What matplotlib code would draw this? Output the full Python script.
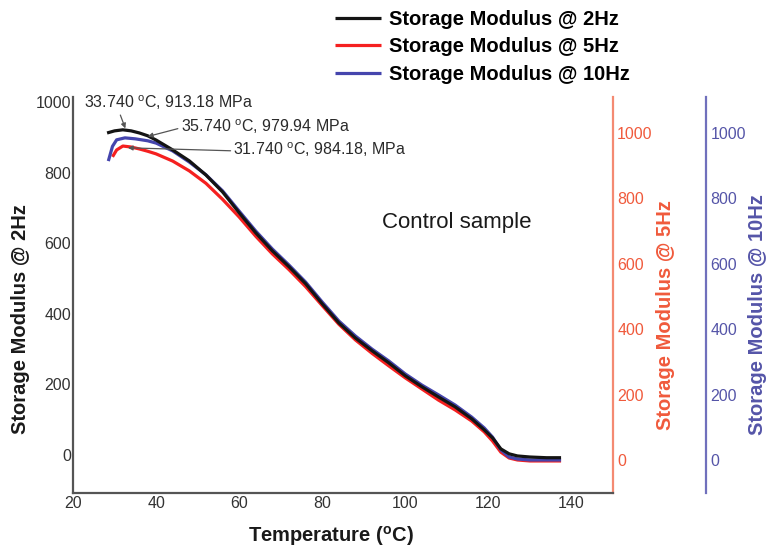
import matplotlib
matplotlib.use('Agg')
import matplotlib.pyplot as plt

plt.rcParams['font.family'] = ['Liberation Sans', 'DejaVu Sans']
plt.rcParams['mathtext.fontset'] = 'custom'
plt.rcParams['mathtext.rm'] = 'Liberation Sans'
plt.rcParams['mathtext.bf'] = 'Liberation Sans:bold'

# temperature (C) and storage modulus (MPa)
temp_2hz = [28.2, 30, 32, 34, 36, 38, 40, 44, 48, 52, 56, 60, 64, 68, 72, 76, 80, 84,
            88, 92, 96, 100, 104, 108, 112, 116, 119, 121, 123, 125, 127, 130, 134, 137.5]
mod_2hz = [912, 918, 921, 918, 912, 904, 892, 864, 833, 793, 745, 686, 629, 578, 533, 485,
           428, 374, 331, 295, 261, 224, 193, 164, 136, 102, 71, 48, 17, 3, -3, -6, -8, -8]

temp_5hz = [29.5, 30.5, 32, 34, 36, 38, 40, 44, 48, 52, 56, 60, 64, 68, 72, 76, 80, 84,
            88, 92, 96, 100, 104, 108, 112, 116, 119, 121, 123, 125, 127, 130, 134, 137.5]
mod_5hz = [927, 948, 960, 957, 951, 944, 936, 914, 884, 846, 797, 743, 684, 630, 582, 530,
           472, 415, 367, 326, 288, 251, 217, 183, 153, 119, 86, 58, 24, 6, 0, -3, -3, -3]

temp_10hz = [28.5, 29.5, 30.5, 32.5, 35, 38, 40, 44, 48, 52, 56, 60, 64, 68, 72, 76, 80, 84,
             88, 92, 96, 100, 104, 108, 112, 116, 119, 121, 123, 125, 127, 130, 134, 137.5]
mod_10hz = [914, 959, 979, 985, 982, 976, 969, 945, 911, 872, 823, 761, 700, 645, 596, 544,
            483, 425, 379, 339, 303, 263, 229, 199, 168, 131, 98, 70, 31, 9, 3, 0, 0, 0]

yticks = [0, 200, 400, 600, 800, 1000]
xticks = [20, 40, 60, 80, 100, 120, 140]

c_black = '#141414'
c_red = '#f52020'
c_blue = '#4545ad'
red_axis = '#f48a72'
red_text = '#f05a3c'
blue_axis = '#7070bc'
blue_text = '#5555a8'
gray = '#555555'

fig = plt.figure(figsize=(7.67, 5.47), dpi=100)
ax = fig.add_axes([0.0952, 0.0987, 0.704, 0.724])
ax_r = ax.twinx()
ax_b = ax.twinx()

l5, = ax_r.plot(temp_5hz, mod_5hz, color=c_red, lw=2.3, solid_capstyle='butt')
l10, = ax_b.plot(temp_10hz, mod_10hz, color=c_blue, lw=2.3, solid_capstyle='butt')
l2, = ax.plot(temp_2hz, mod_2hz, color=c_black, lw=2.3, solid_capstyle='butt')

ax.set_zorder(3)
ax.patch.set_visible(False)

ax.set_xlim(20, 150)
ax.set_ylim(-108, 1014)
ax_r.set_ylim(-101, 1110)
ax_b.set_ylim(-101, 1110)

ax.set_xticks(xticks)
ax.set_yticks(yticks)
ax_r.set_yticks(yticks)
ax_b.set_yticks(yticks)

for a in (ax, ax_r, ax_b):
    for s in a.spines.values():
        s.set_visible(False)

ax.spines['left'].set_visible(True)
ax.spines['bottom'].set_visible(True)
ax.spines['left'].set_color(gray)
ax.spines['bottom'].set_color(gray)
ax.spines['left'].set_linewidth(1.6)
ax.spines['bottom'].set_linewidth(1.6)

ax_r.spines['right'].set_visible(True)
ax_r.spines['right'].set_color(red_axis)
ax_r.spines['right'].set_linewidth(1.6)

ax_b.spines['right'].set_visible(True)
ax_b.spines['right'].set_position(('axes', 1.1725))
ax_b.spines['right'].set_color(blue_axis)
ax_b.spines['right'].set_linewidth(1.6)

ax.tick_params(axis='both', length=0, labelsize=11.5, labelcolor='#333333')
ax.tick_params(axis='y', pad=1.5)
ax.tick_params(axis='x', pad=2.5)
ax_r.tick_params(axis='y', length=0, labelsize=11.5, labelcolor=red_text, pad=3)
ax_b.tick_params(axis='y', length=0, labelsize=11.5, labelcolor=blue_text, pad=3)

ax.set_xlabel(r'Temperature ($^{\mathbf{o}}$C)', fontsize=14.5, fontweight='bold', color='#1a1a1a')
ax.xaxis.set_label_coords(0.477, -0.078)
ax.set_ylabel('Storage Modulus @ 2Hz', fontsize=14.5, fontweight='bold', color='#1a1a1a')
ax.yaxis.set_label_coords(-0.080, 0.44)
ax_r.set_ylabel('Storage Modulus @ 5Hz', fontsize=14.5, fontweight='bold', color=red_text)
ax_r.yaxis.set_label_coords(1.080, 0.45)
ax_b.set_ylabel('Storage Modulus @ 10Hz', fontsize=14.5, fontweight='bold', color=blue_text)
ax_b.yaxis.set_label_coords(1.250, 0.45)

ax.text(0.573, 0.684, 'Control sample', transform=ax.transAxes, fontsize=16,
        va='center', ha='left', color='#1a1a1a')

arrow = dict(arrowstyle='-|>', color=gray, lw=0.9, mutation_scale=7, shrinkA=0, shrinkB=0)
ax.annotate(r'33.740 $^{\mathrm{o}}$C, 913.18 MPa', xy=(32.6, 925), xytext=(22.6, 997),
            fontsize=11.5, color='#2a2a2a', va='center', ha='left',
            arrowprops=dict(arrow, relpos=(0.21, 0.0)))
ax.annotate(r'35.740 $^{\mathrm{o}}$C, 979.94 MPa', xy=(38, 902), xytext=(45.9, 929),
            fontsize=11.5, color='#2a2a2a', va='center', ha='left',
            arrowprops=dict(arrow, relpos=(0.0, 0.45)))
ax.annotate(r'31.740 $^{\mathrm{o}}$C, 984.18, MPa', xy=(33.2, 870), xytext=(58.6, 864),
            fontsize=11.5, color='#2a2a2a', va='center', ha='left',
            arrowprops=dict(arrow, relpos=(0.0, 0.45)))

fig.legend([l2, l5, l10],
           ['Storage Modulus @ 2Hz', 'Storage Modulus @ 5Hz', 'Storage Modulus @ 10Hz'],
           loc='upper left', bbox_to_anchor=(335 / 767, 1 - 10 / 547), frameon=False,
           prop={'size': 14.5, 'weight': 'bold'}, handlelength=2.3, handletextpad=0.4,
           labelspacing=0.42, borderpad=0, borderaxespad=0)

fig.savefig('out.png', dpi=100)
